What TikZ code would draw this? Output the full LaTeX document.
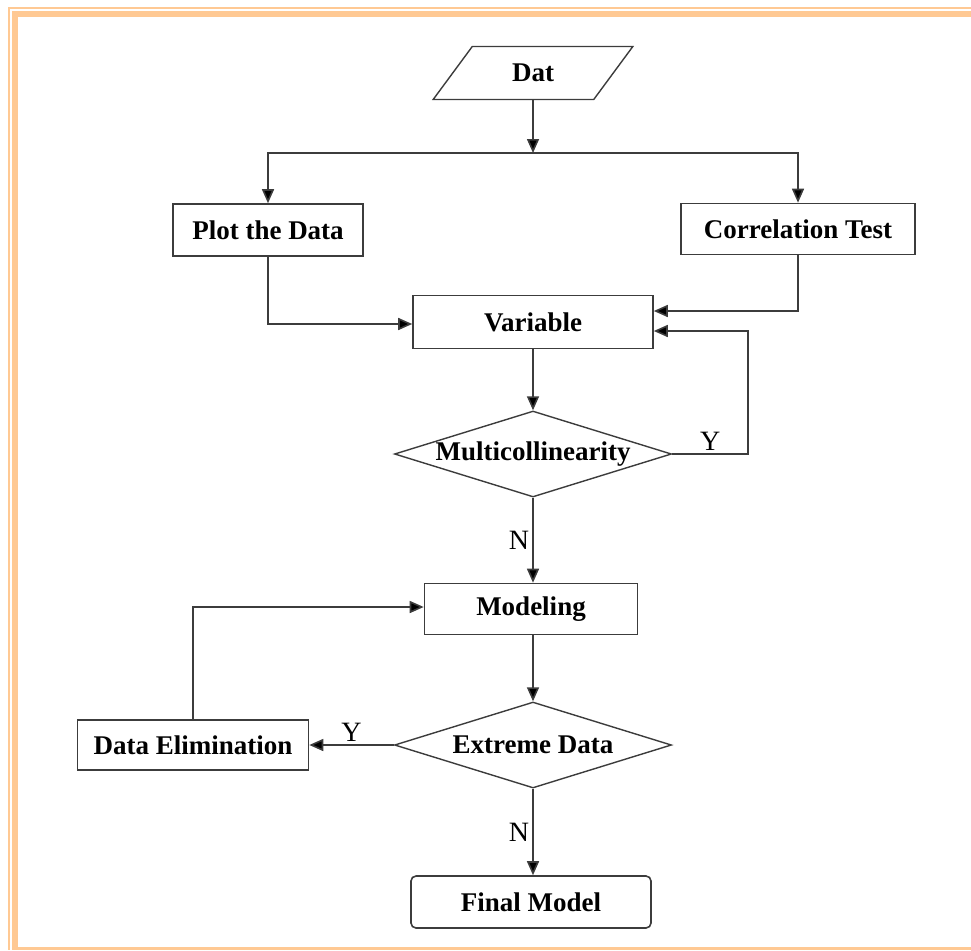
\documentclass[tikz,border=0pt]{standalone}
\usepackage{fontspec}
\setmainfont{Liberation Serif}
\usetikzlibrary{arrows.meta,shapes.geometric}
\definecolor{cf}{HTML}{FFC993}
\definecolor{cl}{HTML}{3C3C3C}
\tikzset{
  process/.style={rectangle,draw=cl,line width=1.6pt,inner sep=0pt,font=\fontsize{27}{30}\selectfont\bfseries},
  iodata/.style={trapezium,trapezium left angle=53,trapezium right angle=127,trapezium stretches=true,draw=cl,line width=1.4pt,inner sep=0pt,font=\fontsize{27}{30}\selectfont\bfseries},
  decision/.style={diamond,draw=cl,line width=1.4pt,inner sep=0pt,minimum width=277pt,minimum height=86pt},
  terminal/.style={process,rounded corners=5pt},
  flow/.style={draw=cl,line width=1.6pt,-{Triangle[width=12pt,length=14pt,fill=black]}},
  yn/.style={font=\fontsize{28}{30}\selectfont,inner sep=3pt},
}
\begin{document}
\begin{tikzpicture}[x=1pt,y=-1pt]
  \useasboundingbox (0,0) rectangle (971,950);
  \fill[cf] (8,7) rectangle (971,9);
  \fill[cf] (8,7) rectangle (10,950);
  \fill[cf] (12,11) rectangle (971,17);
  \fill[cf] (12,11) rectangle (18,950);
  \fill[cf] (12,947) rectangle (971,950);

  \node[iodata,minimum width=201pt,minimum height=53pt] (dat) at (533,73) {Dat};
  \coordinate (split) at (533,153);
  \node[process,minimum width=190pt,minimum height=52pt] (plot) at (268,230) {Plot the Data};
  \node[process,minimum width=234pt,minimum height=51pt] (corr) at (798,229) {Correlation Test};
  \node[process,minimum width=240pt,minimum height=53pt] (var) at (533,322) {Variable};
  \node[decision,label={[font=\fontsize{27}{30}\selectfont\bfseries]center:Multicollinearity}] (multi) at (533,454) {};
  \node[process,minimum width=213pt,minimum height=51pt] (model) at (531,609) {Modeling};
  \node[decision,label={[font=\fontsize{27}{30}\selectfont\bfseries]center:Extreme Data}] (extreme) at (533,745) {};
  \node[process,minimum width=231pt,minimum height=50pt] (elim) at (193,745) {Data Elimination};
  \node[terminal,minimum width=240pt,minimum height=52pt] (final) at (531,902) {Final Model};

  \draw[flow] (dat.south) -- (split);
  \draw[flow] (split) -| (plot.north);
  \draw[flow] (split) -| (corr.north);
  \draw[flow] (plot.south) |- ([yshift=-2pt]var.west);
  \draw[flow] (corr.south) |- ([yshift=11pt]var.east);
  \draw[flow] (var.south) -- (multi.north);
  \draw[flow] (multi.east) -- node[yn,above]{Y} ++(76,0) |- ([yshift=-9pt]var.east);
  \draw[flow] (multi.south) -- node[yn,left]{N} (model.north -| multi.south);
  \draw[flow] (model.south -| extreme.north) -- (extreme.north);
  \draw[flow] (extreme.west) -- node[yn,above]{Y} (elim.east);
  \draw[flow] (elim.north) |- ([yshift=2pt]model.west);
  \draw[flow] (extreme.south) -- node[yn,left]{N} (final.north -| extreme.south);
\end{tikzpicture}
\end{document}
